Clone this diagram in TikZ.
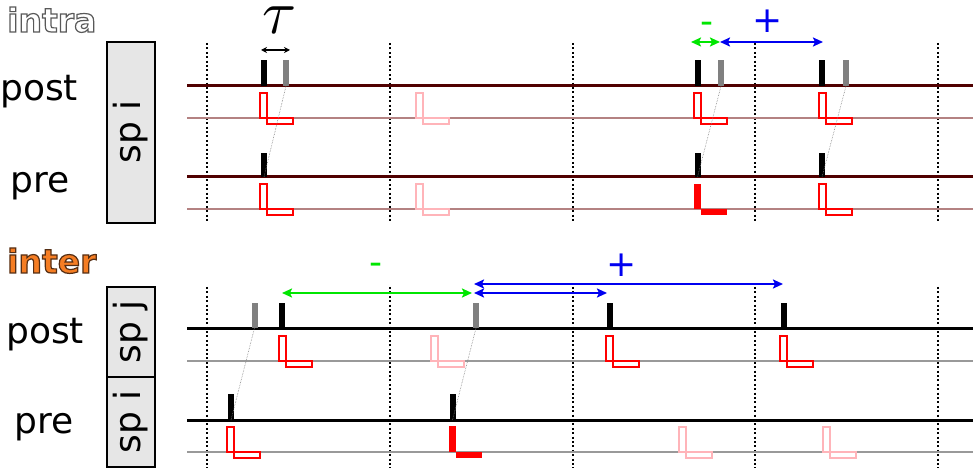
\documentclass[tikz,border=0pt]{standalone}
\usepackage{fontspec}
\setmainfont{DejaVu Sans}
\usetikzlibrary{arrows.meta}
\definecolor{maroonax}{RGB}{80,0,0}
\definecolor{rosyln}{RGB}{180,130,130}
\definecolor{pinkL}{RGB}{255,180,185}
\definecolor{boxgray}{RGB}{230,230,230}
\definecolor{grn}{RGB}{0,230,0}
\definecolor{blu}{RGB}{0,0,240}
\definecolor{orng}{RGB}{245,125,35}
\definecolor{spikegray}{RGB}{128,128,128}
\newcommand{\bigtxt}{\fontsize{36}{40}\selectfont}
\newcommand{\headtxt}{\fontsize{33}{36}\selectfont\bfseries}
% outlined text: #1 fill colour, #2 stroke "r g b", #3 text
\newcommand{\outl}[3]{{\color{#1}\special{pdf:literal direct #2 RG 1.2 w 2 Tr}#3\special{pdf:literal direct 0 Tr}}}
% L shape: #1 left x, #2 thin-line y, #3 style
\newcommand{\Lsh}[3]{%
  \draw[#3] (#1,#2-25) rectangle (#1+7,#2);
  \draw[#3] (#1+7,#2) rectangle (#1+33,#2+6);}
\tikzset{
  lab/.style={inner sep=0pt, anchor=base west},
  sgn/.style={inner sep=0pt, anchor=base},
  thickax/.style={line width=3pt},
  thinax/.style={line width=1.1pt},
  vdots/.style={line width=2.3pt, dash pattern=on 2pt off 2.4pt},
  spikeb/.style={fill=black, draw=none, minimum width=6pt, inner sep=0pt, anchor=south},
  spikeg/.style={fill=spikegray, draw=none, minimum width=6pt, inner sep=0pt, anchor=south},
  Lred/.style={draw=red, line width=1.4pt},
  Lpink/.style={draw=pinkL, line width=1.4pt},
  conn/.style={draw=gray, line width=0.6pt, densely dotted},
  spbox/.style={draw=black, line width=2pt, fill=boxgray, inner sep=0pt},
  garr/.style={draw=grn, line width=2pt, {Stealth[length=10pt,width=9pt,inset=2pt]}-{Stealth[length=10pt,width=9pt,inset=2pt]}},
  barr/.style={draw=blu, line width=2pt, {Stealth[length=10pt,width=9pt,inset=2pt]}-{Stealth[length=10pt,width=9pt,inset=2pt]}},
}
\begin{document}
\begin{tikzpicture}[x=1pt,y=-1pt]
\useasboundingbox (0,0) rectangle (977,470);
% ---------- headings ----------
\node[lab] (intra) at (7,32) {\headtxt\outl{white}{0.35 0.35 0.35}{intra}};
\node[lab] (inter) at (7,273) {\headtxt\outl{orng}{0.33 0.18 0.08}{inter}};
% ---------- intra ----------
\node[lab] (postA) at (0,101) {\bigtxt post};
\node[lab] (preA) at (10,193) {\bigtxt pre};
\draw[spbox] (107,42) rectangle (155,223);
\node[rotate=90, inner sep=0pt] (spiA) at (131,132) {\bigtxt sp i};
\foreach \x in {207,390,573,755,938}
  \draw[vdots] (\x,43) -- (\x,221);
\draw[thickax, maroonax] (187,86) -- (973,86);
\draw[thinax, rosyln] (187,118) -- (973,118);
\draw[thickax, maroonax] (187,177) -- (973,177);
\draw[thinax, rosyln] (187,209) -- (973,209);
\Lsh{260}{118}{Lred}
\Lsh{416}{118}{Lpink}
\Lsh{694}{118}{Lred}
\Lsh{819}{118}{Lred}
\Lsh{260}{209}{Lred}
\Lsh{416}{209}{Lpink}
\Lsh{819}{209}{Lred}
\fill[red] (694,184) rectangle (701,209);
\fill[red] (701,209) rectangle (727,215);
\node[spikeb, minimum height=26pt] (pb1) at (264,86) {};
\node[spikeg, minimum height=26pt] (pg1) at (286,86) {};
\node[spikeb, minimum height=26pt] (pb2) at (697.5,86) {};
\node[spikeg, minimum height=26pt] (pg2) at (721,86) {};
\node[spikeb, minimum height=26pt] (pb3) at (822,86) {};
\node[spikeg, minimum height=26pt] (pg3) at (846,86) {};
\node[spikeb, minimum height=24pt] (rb1) at (264,177) {};
\node[spikeb, minimum height=24pt] (rb2) at (697.5,177) {};
\node[spikeb, minimum height=24pt] (rb3) at (822,177) {};
\draw[conn] (pg1.south) -- (rb1.south);
\draw[conn] (pg2.south) -- (rb2.south);
\draw[conn] (pg3.south) -- (rb3.south);
\coordinate (tauL) at (261,50);
\coordinate (tauR) at (290,50);
\draw[line width=1.5pt, {Stealth[length=6pt,width=6pt]}-{Stealth[length=6pt,width=6pt]}] (tauL) -- (tauR);
\node[inner sep=0pt, anchor=base] (tau) at (280,34) {\scalebox{6.2}{$\tau$}};
\coordinate (gA1) at (691,42);
\coordinate (gA2) at (720,42);
\coordinate (bA2) at (823,42);
\draw[garr] (gA1) -- (gA2);
\draw[barr] (gA2) -- (bA2);
\node[sgn, text=grn] (minA) at (707,33.5) {\bigtxt -};
\node[sgn, text=blu] (plusA) at (768,32.5) {\bigtxt +};
% ---------- inter ----------
\node[lab] (postB) at (6,343) {\bigtxt post};
\node[lab] (preB) at (14,433) {\bigtxt pre};
\draw[spbox] (107,287) rectangle (155,377);
\draw[spbox] (107,377) rectangle (155,467);
\node[rotate=90, inner sep=0pt] (spj) at (131,332) {\bigtxt sp j};
\node[rotate=90, inner sep=0pt] (spiB) at (131,422) {\bigtxt sp i};
\foreach \x in {207,390,573,755,938}
  \draw[vdots] (\x,287) -- (\x,468);
\draw[thickax, black] (187,328) -- (973,328);
\draw[thinax, gray!80] (187,361) -- (973,361);
\draw[thickax, black] (187,420) -- (973,420);
\draw[thinax, gray!80] (187,452) -- (973,452);
\Lsh{279}{361}{Lred}
\Lsh{431}{361}{Lpink}
\Lsh{606}{361}{Lred}
\Lsh{780}{361}{Lred}
\Lsh{227}{452}{Lred}
\Lsh{679}{452}{Lpink}
\Lsh{823}{452}{Lpink}
\fill[red] (449,426) rectangle (456,452);
\fill[red] (456,452) rectangle (482,458);
\node[spikeg, minimum height=25pt] (qg1) at (254.5,328) {};
\node[spikeb, minimum height=25pt] (qb1) at (282,328) {};
\node[spikeg, minimum height=25pt] (qg2) at (476,328) {};
\node[spikeb, minimum height=25pt] (qb2) at (610,328) {};
\node[spikeb, minimum height=25pt] (qb3) at (783.5,328) {};
\node[spikeb, minimum height=26pt] (sb1) at (231,420) {};
\node[spikeb, minimum height=26pt] (sb2) at (452.5,420) {};
\draw[conn] (qg1.south) -- (sb1.south);
\draw[conn] (qg2.south) -- (sb2.south);
\coordinate (gB1) at (282,293);
\coordinate (gB2) at (472,293);
\coordinate (bB1) at (474,293);
\coordinate (bB2) at (607,293);
\coordinate (bB3) at (474,284);
\coordinate (bB4) at (783,284);
\draw[garr] (gB1) -- (gB2);
\draw[barr] (bB1) -- (bB2);
\draw[barr] (bB3) -- (bB4);
\node[sgn, text=grn] (minB) at (376,275) {\bigtxt -};
\node[sgn, text=blu] (plusB) at (622,276.5) {\bigtxt +};
\end{tikzpicture}
\end{document}
